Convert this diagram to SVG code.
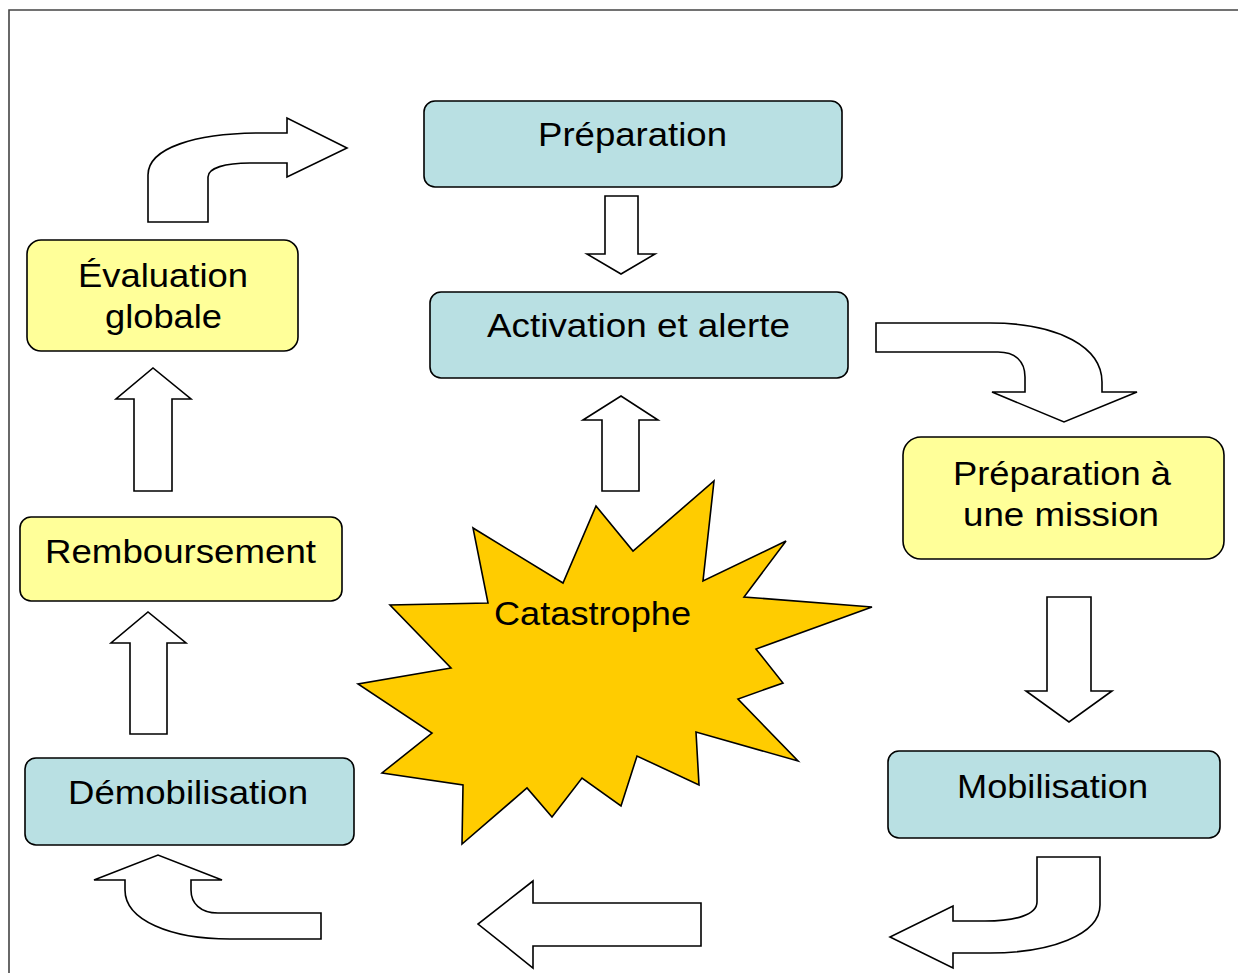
<svg xmlns="http://www.w3.org/2000/svg" width="1238" height="973" viewBox="0 0 1238 973">
<style>
.box{stroke:#000;stroke-width:1.6}
.blue{fill:#b9e0e3}
.yellow{fill:#ffff99}
.arr{fill:#fff;stroke:#000;stroke-width:1.6;stroke-linejoin:miter}
.t{font-family:"Liberation Sans",Arial,sans-serif;font-size:34px;fill:#000;text-anchor:middle}
</style>
<rect width="1238" height="973" fill="#fff"/>
<path d="M9,973 L9,10 L1238,10" fill="none" stroke="#444" stroke-width="1.6"/>

<g id="connectors">
  <path class="arr" d="M148,222 L148,175 C148,148 195,133 262,133 L287,133 L287,118 L347,148 L287,177 L287,163 L250,163 C225,163 208,168 208,177 L208,222 Z"/>
  <path class="arr" d="M605,196 L638,196 L638,254 L655,254 L621,274 L587,254 L605,254 Z"/>
  <path class="arr" d="M876,323 L990,323 C1060,323 1102,348 1102,382 L1102,392 L1137,392 L1064,422 L992,392 L1025,392 L1025,377 C1025,361 1015,352 998,352 L876,352 Z"/>
  <path class="arr" d="M1047,597 L1091,597 L1091,691 L1112,691 L1069,722 L1026,691 L1047,691 Z"/>
  <path class="arr" d="M1037,857 L1100,857 L1100,905 C1100,935 1050,953 990,953 L953,953 L953,968 L890,937 L953,906 L953,921 L985,921 C1015,921 1037,915 1037,902 Z"/>
  <path class="arr" d="M701,903 L701,946 L533,946 L533,968 L478,924 L533,881 L533,903 Z"/>
  <path class="arr" d="M321,913 L218,913 C200,913 191,903 191,890 L191,880 L222,880 L158,855 L94,880 L125,880 L125,890 C125,920 170,939 230,939 L321,939 Z"/>
  <path class="arr" d="M130,734 L130,643 L111,643 L148,612 L186,643 L167,643 L167,734 Z"/>
  <path class="arr" d="M134,491 L134,399 L116,399 L153,368 L191,399 L172,399 L172,491 Z"/>
  <path class="arr" d="M602,491 L602,420 L583,420 L621,396 L658,420 L639,420 L639,491 Z"/>
</g>

<g id="catastrophe">
  <path d="M714,481 L703,581 L786,541 L744,597 L872,607 L756,649 L783,683 L738,699 L798,761 L696,732 L699,785 L637,756 L621,806 L582,778 L552,817 L527,788 L462,844 L463,785 L382,773 L432,733 L358,684 L451,668 L390,605 L488,603 L473,528 L563,583 L596,506 L633,551 Z" fill="#ffcc00" stroke="#000" stroke-width="1.6" stroke-linejoin="miter"/>
  <text class="t" x="592.5" y="625" textLength="197" lengthAdjust="spacingAndGlyphs">Catastrophe</text>
</g>

<g id="preparation">
  <rect class="box blue" x="424" y="101" width="418" height="86" rx="11"/>
  <text class="t" x="632.5" y="146" textLength="189" lengthAdjust="spacingAndGlyphs">Préparation</text>
</g>

<g id="activation">
  <rect class="box blue" x="430" y="292" width="418" height="86" rx="11"/>
  <text class="t" x="638.5" y="337" textLength="303" lengthAdjust="spacingAndGlyphs">Activation et alerte</text>
</g>

<g id="preparation-mission">
  <rect class="box yellow" x="903" y="437" width="321" height="122" rx="18"/>
  <text class="t" x="1062" y="485" textLength="218" lengthAdjust="spacingAndGlyphs">Préparation à</text>
  <text class="t" x="1061" y="526" textLength="196" lengthAdjust="spacingAndGlyphs">une mission</text>
</g>

<g id="mobilisation">
  <rect class="box blue" x="888" y="751" width="332" height="87" rx="11"/>
  <text class="t" x="1052.5" y="798" textLength="191" lengthAdjust="spacingAndGlyphs">Mobilisation</text>
</g>

<g id="demobilisation">
  <rect class="box blue" x="25" y="758" width="329" height="87" rx="11"/>
  <text class="t" x="188" y="804" textLength="240" lengthAdjust="spacingAndGlyphs">Démobilisation</text>
</g>

<g id="remboursement">
  <rect class="box yellow" x="20" y="517" width="322" height="84" rx="11"/>
  <text class="t" x="180.5" y="563" textLength="271" lengthAdjust="spacingAndGlyphs">Remboursement</text>
</g>

<g id="evaluation">
  <rect class="box yellow" x="27" y="240" width="271" height="111" rx="14"/>
  <text class="t" x="163" y="287" textLength="170" lengthAdjust="spacingAndGlyphs">Évaluation</text>
  <text class="t" x="163.5" y="328" textLength="117" lengthAdjust="spacingAndGlyphs">globale</text>
</g>
</svg>
